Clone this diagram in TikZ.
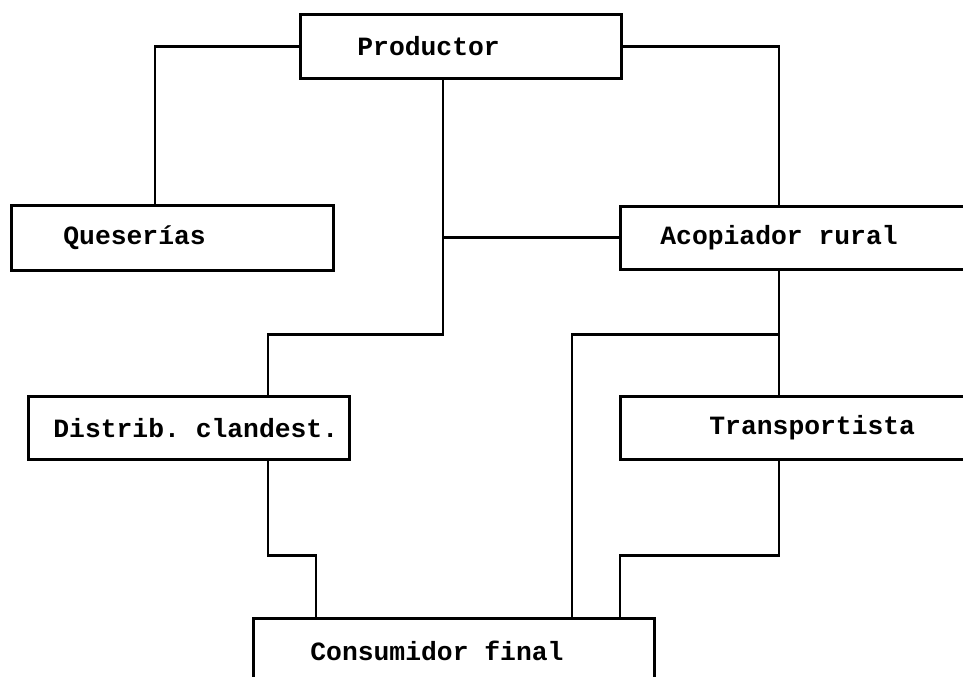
\documentclass[tikz,border=0pt]{standalone}
\usepackage{fontspec}
\setmonofont{Liberation Mono}
\usepackage{tikz}
\usetikzlibrary{calc}
\setlength{\parindent}{0pt}
\newcommand{\esp}{\hspace*{0.6em}}
\begin{document}
\begin{tikzpicture}[x=0.2mm,y=-0.2mm,line width=1.6pt,
  caja/.style={draw,anchor=north west,inner sep=0pt,align=left,font=\ttfamily\bfseries\fontsize{15}{18}\selectfont}]
\useasboundingbox (0,0) rectangle (963,677);
\clip (0,0) rectangle (963,677);
% cajas
\node[caja,text width=64.2mm,minimum height=12.8mm] (prod) at (299,13) {\hspace*{11.4mm}Productor};
\node[caja,text width=64.4mm,minimum height=13mm] (ques) at (10,204) {\hspace*{10.4mm}Queserías};
\node[caja,text width=78.2mm,minimum height=12.6mm] (acop) at (619,205) {\hspace*{8mm}Acopiador\esp rural};
\node[caja,text width=64.2mm,minimum height=12.6mm] (dist) at (27,395) {\hspace*{5mm}Distrib.\esp clandest.};
\node[caja,text width=78.2mm,minimum height=12.6mm] (trans) at (619,395) {\hspace*{17.8mm}Transportista};
\node[caja,text width=80.2mm,minimum height=12.8mm] (cons) at (252,617) {\hspace*{11.4mm}Consumidor\esp final};
% lineas
\draw (prod.west) -| ($(ques.north west)+(145,0)$);
\draw (prod.east) -| ($(acop.north west)+(160,0)$);
\draw ($(prod.south west)+(144,0)$) -- ++(0,255) -| ($(dist.north west)+(241,0)$);
\draw (acop.west) -- ++(-176,0);
\draw ($(acop.south west)+(160,0)$) -- ($(trans.north west)+(160,0)$);
\draw ($(acop.south west)+(160,64)$) -| ($(cons.north west)+(320,0)$);
\draw ($(dist.south west)+(241,0)$) -- ++(0,95) -| ($(cons.north west)+(64,0)$);
\draw ($(trans.south west)+(160,0)$) -- ++(0,95) -| ($(cons.north west)+(368,0)$);
\end{tikzpicture}
\end{document}
